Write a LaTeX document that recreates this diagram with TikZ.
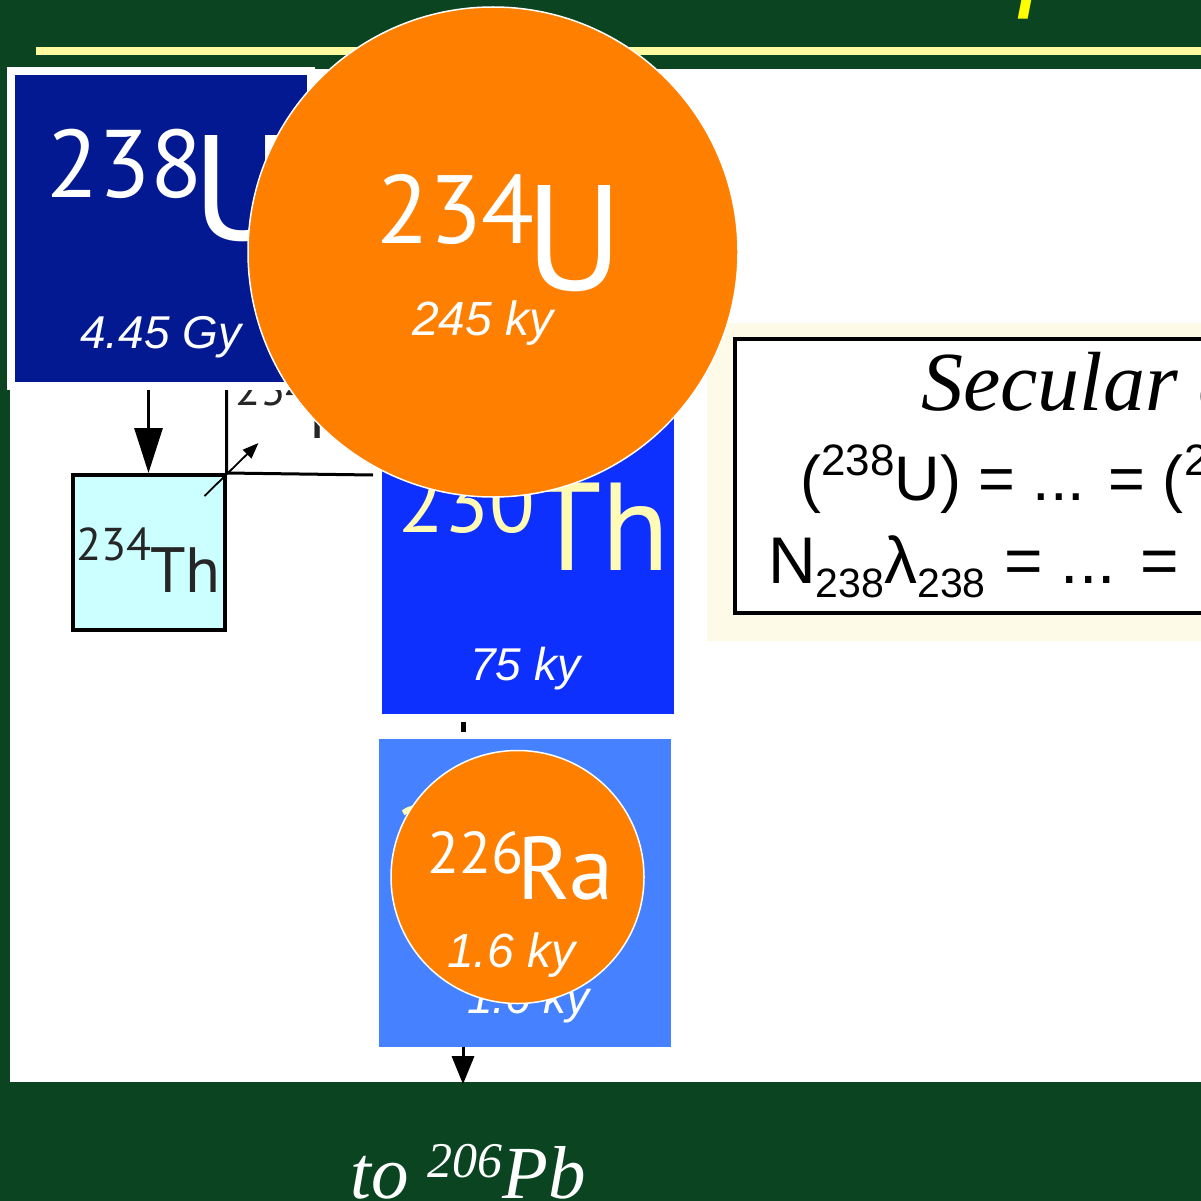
\documentclass[tikz,border=0pt]{standalone}
\usepackage{fontspec}
\setmainfont{Liberation Sans}
\newfontfamily\nucfont{PT Sans}
\newfontfamily\timesfont{Liberation Serif}
\newfontfamily\headfont{DejaVu Sans}
\usetikzlibrary{arrows.meta,positioning}
\definecolor{slidegreen}{RGB}{10,68,32}
\definecolor{ruleyellow}{RGB}{255,250,160}
\definecolor{headyellow}{RGB}{255,255,0}
\definecolor{nucyellow}{RGB}{255,250,180}
\definecolor{cU}{RGB}{3,25,145}
\definecolor{cTh}{RGB}{14,48,255}
\definecolor{cRa}{RGB}{70,130,255}
\definecolor{cOrb}{RGB}{255,127,0}
\definecolor{cThin}{RGB}{204,255,255}
\definecolor{cream}{RGB}{253,250,232}
\newcommand{\setfs}[1]{\fontsize{#1}{#1}\selectfont}

\begin{document}
\begin{tikzpicture}[x=1pt,y=-1pt,
  txt/.style={inner sep=0pt,anchor=base west},
  nucbox/.style={rectangle,inner sep=0pt,minimum width=292pt,minimum height=308pt},
  halflife/.style={txt,text=white,font=\itshape\setfs{46}},
  orb/.style={circle,fill=cOrb,draw=white,line width=1.5pt,inner sep=0pt},
  chain/.style={line width=3pt,black}]
  \useasboundingbox (0,0) rectangle (1201,1201);
  \begin{scope}
  \clip (0,0) rectangle (1201,1201);
  % slide background and title
  \fill[slidegreen] (0,0) rectangle (1201,1201);
  \node[txt,text=headyellow,font=\headfont\itshape\setfs{110}] (title) at (465,-3) {Secular equilibrium};
  \fill[ruleyellow] (36,47) rectangle (1201,55);
  \fill[white] (10,69) rectangle (1201,1082);
  % equilibrium box
  \node[fill=cream,inner sep=0pt,minimum width=560pt,minimum height=318pt] (eqback) at (987,482) {};
  \node[draw=black,fill=white,line width=4pt,inner sep=0pt,minimum width=540pt,minimum height=274pt] (eqbox) at (1005,476) {};
  \node[txt,font=\timesfont\itshape\setfs{84}] (eqtitle) at (921,410) {Secular equilibrium};
  \node[txt,font=\setfs{63}] (eqact) at (800,500)
       {(\raisebox{25pt}{\setfs{44}238}U) = ... = (\raisebox{25pt}{\setfs{44}226}Ra)};
  \node[txt,font=\setfs{66}] (eqnum) at (768,583)
       {N\raisebox{-14pt}{\setfs{41}238}λ\raisebox{-14pt}{\setfs{41}238} = ... = N\raisebox{-14pt}{\setfs{41}226}λ\raisebox{-14pt}{\setfs{41}226}};
  % chain behind the circles
  \node[txt,text=black!85,font=\nucfont\setfs{46}] (pa234n) at (235,405) {234};
  \node[txt,text=black!85,font=\nucfont\setfs{64}] (pa234s) at (309,438) {Pa};
  \coordinate (pabranch) at (373,475);
  \node[draw=black,fill=cThin,line width=4pt,inner sep=0pt,minimum width=152pt,minimum height=155pt] (th234) at (148.5,552.5) {};
  \node[txt,text=black!85,font=\nucfont\setfs{46}] (th234n) at (76,560) {234};
  \node[txt,text=black!85,font=\nucfont\setfs{64}] (th234s) at (150,592) {Th};
  \node[nucbox,fill=cTh] (th230) at (528,560) {};
  \node[txt,text=nucyellow,font=\nucfont\setfs{84}] (th230n) at (398,532) {230};
  \node[txt,text=nucyellow,font=\nucfont\setfs{125}] (th230s) at (532,570) {Th};
  \node[halflife] (th230t) at (470,680) {75 ky};
  \node[nucbox,fill=cRa] (ra226) at (525,893) {};
  \node[txt,text=nucyellow,font=\nucfont\setfs{84}] (ra226n) at (395,865) {226};
  \node[txt,text=nucyellow,font=\nucfont\setfs{88}] (ra226s) at (524,903) {Ra};
  \node[halflife] (ra226t) at (467,1013) {1.6 ky};
  % parent box
  \node[nucbox,fill=cU,draw=white,line width=8pt,minimum width=300pt,minimum height=315pt] (u238) at (161,228.5) {};
  \node[txt,text=white,font=\nucfont\setfs{96}] (u238n) at (46,197) {238};
  \node[txt,text=white,font=\nucfont\setfs{150}] (u238s) at (192,240) {U};
  \node[halflife] (u238t) at (80,348) {4.45 Gy};
  % decay arrows
  \draw[chain,-{Triangle[length=45pt,width=28pt]}] (u238.south -| th234.north) -- (th234.north);
  \draw[chain] (u238.south -| th234.north east) -- (th234.north east) -- (pabranch);
  \draw[line width=1.8pt,-{Triangle[length=16pt,width=12pt]}] ([xshift=-22pt,yshift=-23pt]th234.north east) -- ++(54,-53);
  \draw[line width=5pt] ([xshift=-65pt,yshift=-8pt]th230.south) -- ++(0,10);
  \draw[chain,-{Triangle[length=28pt,width=22pt]}] ([xshift=-62pt]ra226.south) -- ++(0,37);
  % highlighted nuclides
  \node[orb,minimum size=490pt] (u234) at (493,252) {};
  \node[txt,text=white,font=\nucfont\setfs{97}] (u234n) at (376,243) {234};
  \node[txt,text=white,font=\nucfont\setfs{150}] (u234s) at (525,290) {U};
  \node[halflife,font=\itshape\setfs{48}] (u234t) at (412,335) {245 ky};
  \node[orb,minimum size=253pt] (ra226c) at (517.5,877) {};
  \node[txt,text=white,font=\nucfont\setfs{59}] (ra226cn) at (427,873) {226};
  \node[txt,text=white,font=\nucfont\setfs{89}] (ra226cs) at (517,899) {Ra};
  \node[halflife,font=\itshape\setfs{48}] (ra226ct) at (447,967) {1.6 ky};
  % end of chain
  \node[txt,text=white,font=\timesfont\itshape\setfs{75}] (pb206) at (350,1198)
       {to \raisebox{21pt}{\setfs{50}206}Pb};
  \end{scope}
\end{tikzpicture}
\end{document}
